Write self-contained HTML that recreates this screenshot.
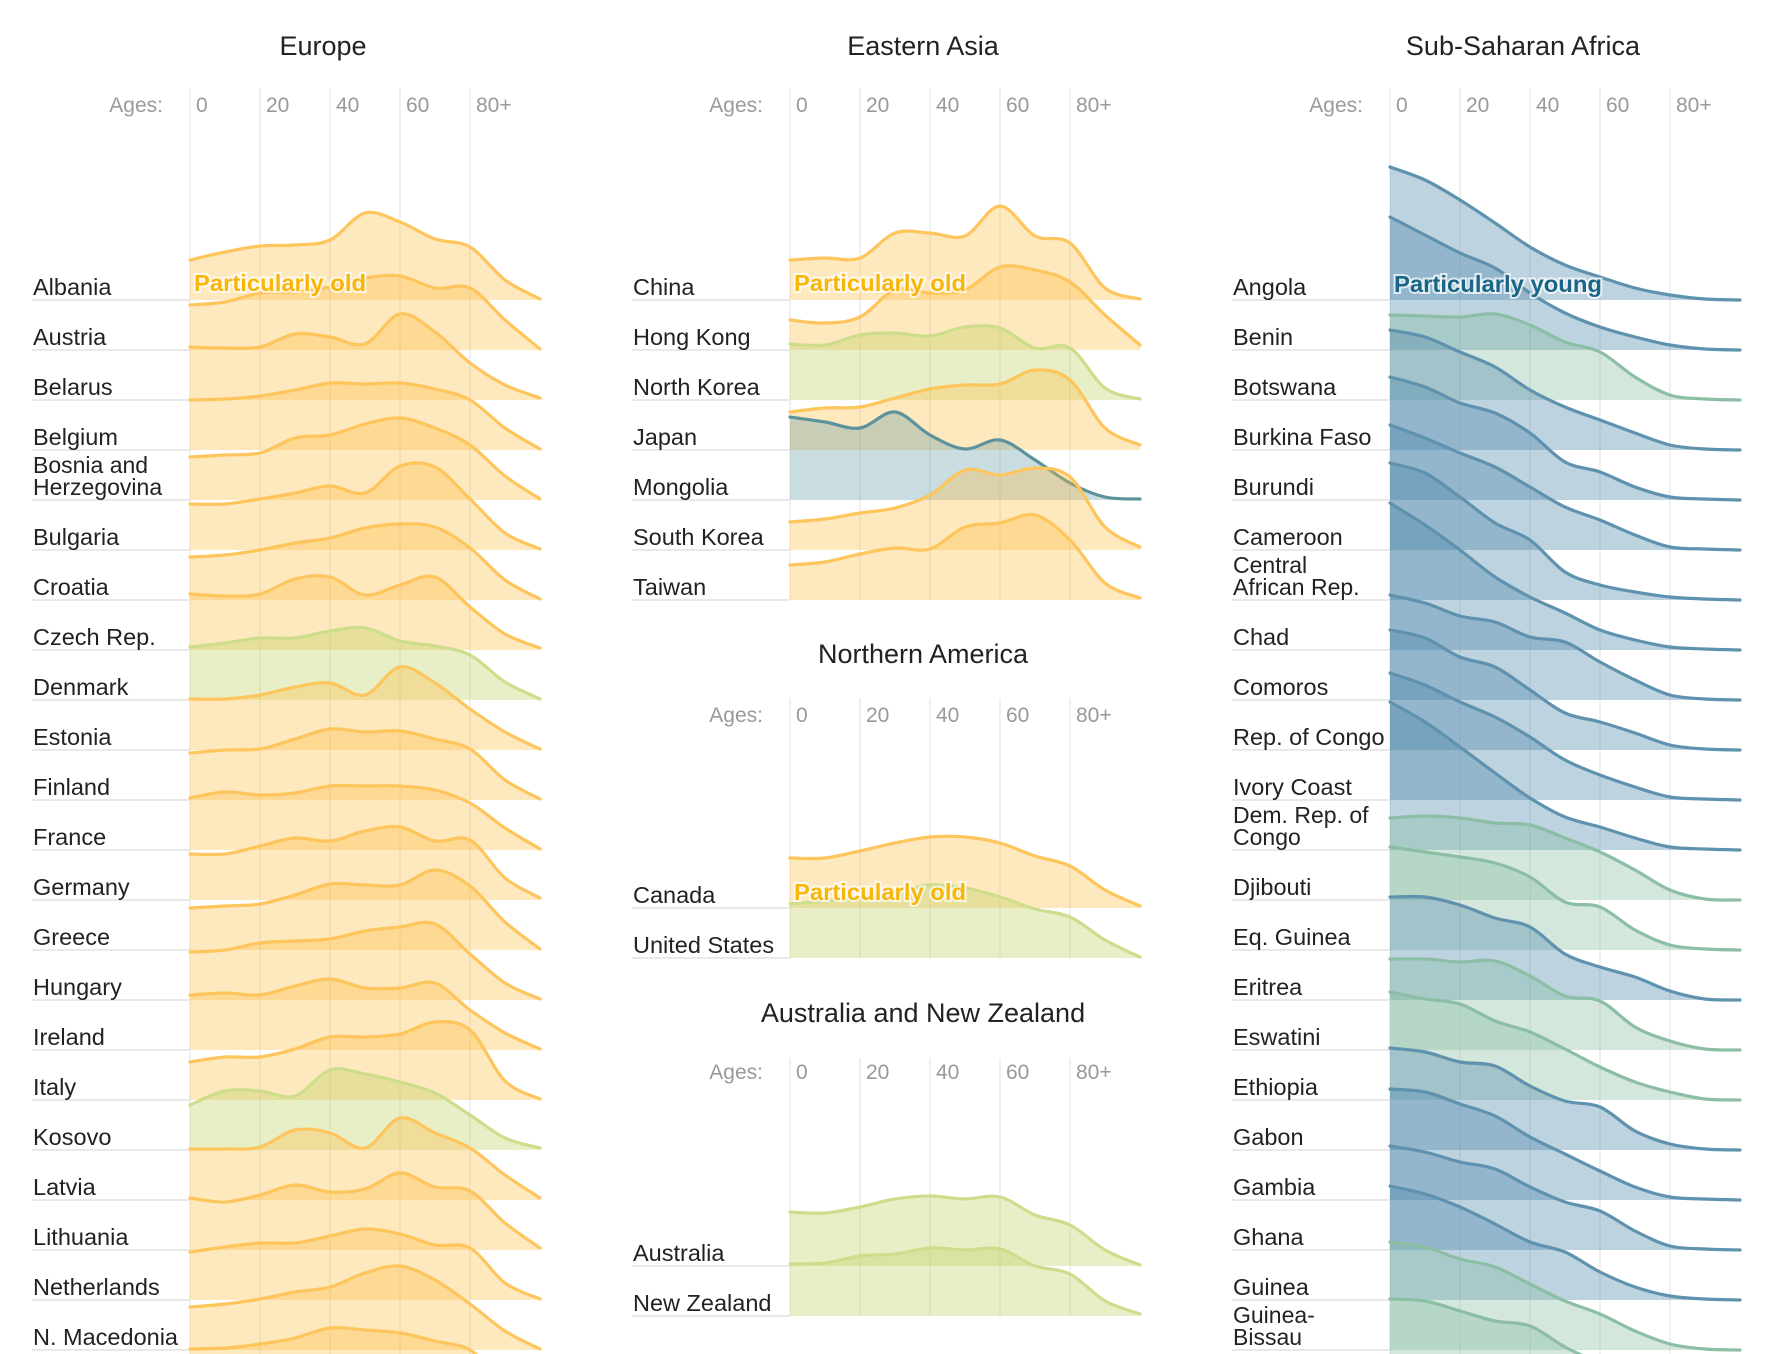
<!DOCTYPE html>
<html><head><meta charset="utf-8">
<style>
html,body{margin:0;padding:0;background:#fff;}
svg{display:block;}
text{font-family:"Liberation Sans",sans-serif;}
</style></head>
<body>
<svg id="chart" width="1766" height="1354" viewBox="0 0 1766 1354" xmlns="http://www.w3.org/2000/svg"></svg>
<script>
const ages = [0,10,20,30,40,50,60,70,80,90,100];
const tickAges = [0,20,40,60,80];
const tickLabels = ['0','20','40','60','80+'];

const europeNames = ['Albania','Austria','Belarus','Belgium','Bosnia and|Herzegovina','Bulgaria','Croatia','Czech Rep.','Denmark','Estonia','Finland','France','Germany','Greece','Hungary','Ireland','Italy','Kosovo','Latvia','Lithuania','Netherlands','N. Macedonia','Norway'];
const europeColors = ['o','o','o','o','o','o','o','o','g','o','o','o','o','o','o','o','o','g','o','o','o','o','o'];
const europeValues = [
 [40,48,54,55,60,87,78,61,53,20,1],
 [45,48,57,58,63,72,74,62,62,30,1],
 [53,52,53,66,63,56,86,68,37,15,2],
 [50,51,54,60,67,66,67,61,50,22,1],
 [43,45,47,62,65,76,82,72,55,24,1],
 [46,46,51,57,64,57,84,83,51,17,1],
 [43,45,50,57,62,72,76,73,52,20,1],
 [56,54,56,71,73,55,65,73,43,16,2],
 [53,57,62,62,69,72,59,54,45,18,1],
 [51,51,55,63,67,55,83,67,41,18,1],
 [47,50,51,61,71,68,69,61,51,20,1],
 [52,58,55,57,64,64,64,60,47,22,1],
 [46,46,54,62,59,69,73,59,60,22,2],
 [42,44,46,55,66,65,65,80,64,28,1],
 [48,50,57,59,61,69,73,76,46,17,1],
 [55,57,55,64,71,62,62,67,40,17,1],
 [38,43,43,51,63,63,66,78,70,19,1],
 [45,59,59,54,80,76,68,57,35,12,2],
 [51,51,53,70,67,52,82,67,52,25,2],
 [52,48,55,65,58,61,77,63,59,27,2],
 [48,53,57,57,64,71,66,55,52,17,1],
 [43,46,51,58,63,77,84,70,46,19,1],
 [51,52,56,62,72,70,67,59,50,20,1]
];

const asiaNames = ['China','Hong Kong','North Korea','Japan','Mongolia','South Korea','Taiwan'];
const asiaColors = ['o','o','g','o','m','o','o'];
const asiaValues = [
 [40,42,42,67,67,64,94,64,57,12,1],
 [30,27,33,60,57,60,83,80,68,35,5],
 [56,55,65,67,64,73,72,52,52,12,1],
 [38,42,43,52,61,65,66,80,70,22,5],
 [83,78,72,88,65,51,60,40,17,3,1],
 [28,31,37,42,55,80,75,82,73,23,3],
 [35,38,46,52,51,73,77,85,60,17,2]
];

const naNames = ['Canada','United States'];
const naColors = ['o','g'];
const naValues = [
 [50,50,57,65,71,71,65,52,42,18,2],
 [54,57,60,66,73,70,61,49,41,18,1]
];

const ausNames = ['Australia','New Zealand'];
const ausColors = ['g','g'];
const ausValues = [
 [54,53,59,67,70,67,69,51,41,16,1],
 [52,53,60,62,68,66,67,50,42,15,2]
];

const africaNames = ['Angola','Benin','Botswana','Burkina Faso','Burundi','Cameroon','Central|African Rep.','Chad','Comoros','Rep. of Congo','Ivory Coast','Dem. Rep. of|Congo','Djibouti','Eq. Guinea','Eritrea','Eswatini','Ethiopia','Gabon','Gambia','Ghana','Guinea','Guinea-|Bissau','Kenya'];
const africaColors = ['b','b','t','b','b','b','b','b','b','b','b','b','t','t','b','t','t','b','b','b','b','t','t'];
const africaValues = [
 [133,120,100,77,53,35,23,12,5,1,0],
 [133,115,97,82,57,37,23,13,5,1,0],
 [85,84,83,86,75,58,48,23,5,1,0],
 [120,113,98,83,60,43,30,17,5,1,0],
 [123,113,97,87,67,38,28,13,3,1,0],
 [125,112,97,83,63,43,30,15,3,1,0],
 [137,127,103,77,60,28,15,8,3,1,0],
 [147,125,100,73,53,37,20,10,3,1,0],
 [105,97,84,78,63,58,38,20,5,1,0],
 [120,112,93,83,60,37,28,17,5,1,0],
 [127,115,98,83,63,40,25,13,3,1,0],
 [148,128,103,77,52,33,23,12,3,1,0],
 [82,84,82,77,75,62,48,30,10,1,0],
 [103,98,93,87,73,48,43,20,5,1,0],
 [103,103,95,82,73,46,33,23,9,1,0],
 [91,91,88,89,74,54,49,23,9,1,0],
 [108,101,96,79,68,51,33,18,8,1,0],
 [102,98,88,84,64,49,43,19,6,1,0],
 [111,108,96,84,63,46,29,13,3,1,0],
 [104,98,88,81,63,48,39,19,4,1,0],
 [114,106,93,76,58,48,28,13,4,1,0],
 [108,103,91,83,66,49,36,19,6,1,0],
 [101,99,89,79,74,53,36,16,5,1,0]
];

const NS = 'http://www.w3.org/2000/svg';
const svg = document.getElementById('chart');
const PAL = {
  o:{fill:'rgb(252,190,70)', stroke:'rgb(253,197,92)'},
  g:{fill:'rgb(190,210,95)', stroke:'rgb(205,221,140)'},
  b:{fill:'rgb(70,130,165)', stroke:'rgb(95,146,174)'},
  m:{fill:'rgb(100,155,165)', stroke:'rgb(92,146,156)'},
  t:{fill:'rgb(130,185,155)', stroke:'rgb(140,190,166)'}
};
const PX_PER_YEAR = 3.5;
const ROW = 50;

function el(tag, attrs, parent){
  const e = document.createElementNS(NS, tag);
  for (const k in attrs) e.setAttribute(k, attrs[k]);
  (parent||svg).appendChild(e);
  return e;
}
function xScale(x0, age){ return x0 + age*PX_PER_YEAR; }
function yScale(base, v){ return base - v; }

function smoothPath(pts){
  let d = '';
  for (let i=0;i<pts.length-1;i++){
    const p0 = pts[i-1]||pts[i], p1 = pts[i], p2 = pts[i+1], p3 = pts[i+2]||pts[i+1];
    const c1x = p1[0]+(p2[0]-p0[0])/6, c1y = p1[1]+(p2[1]-p0[1])/6;
    const c2x = p2[0]-(p3[0]-p1[0])/6, c2y = p2[1]-(p3[1]-p1[1])/6;
    d += ' C'+c1x.toFixed(1)+','+c1y.toFixed(1)+' '+c2x.toFixed(1)+','+c2y.toFixed(1)+' '+p2[0].toFixed(1)+','+p2[1].toFixed(1);
  }
  return d;
}

function title(cx, y, txt){
  const t = el('text',{x:cx,y:y,'text-anchor':'middle','font-size':27,fill:'#222'});
  
  
  t.textContent = txt;
}

function axis(x0, labelY, gridTop, gridBottom){
  const g = el('g',{});
  
  
  tickAges.forEach((a,i)=>{
    const gx = xScale(x0,a);
    const line = el('line',{x1:gx,x2:gx,y1:gridTop,y2:gridBottom,stroke:'#ececec','stroke-width':1.5},g);
    
    
    const t = el('text',{x:gx+6,y:labelY,'font-size':21,fill:'#999'},g);
    
    
    t.textContent = tickLabels[i];
  });
  const lab = el('text',{x:x0-27,y:labelY,'text-anchor':'end','font-size':21,fill:'#999'},g);
  
  
  lab.textContent = 'Ages:';
}

function group(x0, firstBase, names, colors, values){
  const g = el('g',{});
  
  
  names.forEach((nm,i)=>{
    const base = firstBase + i*ROW;
    if (base - 160 > 1354) return;
    const rule = el('line',{x1:x0-158,x2:x0,y1:base,y2:base,stroke:'#e2e2e2','stroke-width':1.5},g);
    
    
    const parts = nm.split('|');
    parts.forEach((p,j)=>{
      const t = el('text',{x:x0-157,y:base-5-(parts.length-1-j)*22,'font-size':parts.length>1?23:23.5,fill:'#222'},g);
      
      
      t.textContent = p;
    });
  });
  names.forEach((nm,i)=>{
    const base = firstBase + i*ROW;
    const c = PAL[colors[i]];
    const pts = ages.map((a,k)=>[xScale(x0,a), yScale(base, values[i][k])]);
    const curve = 'M'+pts[0][0]+','+pts[0][1]+smoothPath(pts);
    const area = el('path',{d:'M'+x0+','+base+' L'+pts[0][0]+','+pts[0][1]+smoothPath(pts)+' L'+xScale(x0,100)+','+base+' Z',fill:c.fill,'fill-opacity':0.35},g);
    
    
    const line = el('path',{d:curve,fill:'none',stroke:c.stroke,'stroke-width':3.2,'stroke-linejoin':'round','stroke-linecap':'round'},g);
    
    
  });
}

function note(x, y, txt, color, w){
  const t = el('text',{x:x,y:y,'font-size':23,'font-weight':'bold',fill:color,stroke:'#fff','stroke-width':4,'stroke-opacity':0.7,'paint-order':'stroke',textLength:w,lengthAdjust:'spacingAndGlyphs'});
  
  
  t.textContent = txt;
}

const C0 = 190, C1 = 790, C2 = 1390;

title(323, 55, 'Europe');
axis(C0, 112, 88, 1354);
group(C0, 300, europeNames, europeColors, europeValues);
note(C0+4, 291, 'Particularly old', '#f8b50a', 172);

title(923, 55, 'Eastern Asia');
axis(C1, 112, 88, 600);
group(C1, 300, asiaNames, asiaColors, asiaValues);
note(C1+4, 291, 'Particularly old', '#f8b50a', 172);

title(923, 663, 'Northern America');
axis(C1, 722, 698, 958);
group(C1, 908, naNames, naColors, naValues);
note(C1+4, 900, 'Particularly old', '#f8b50a', 172);

title(923, 1022, 'Australia and New Zealand');
axis(C1, 1079, 1058, 1316);
group(C1, 1266, ausNames, ausColors, ausValues);

title(1523, 55, 'Sub-Saharan Africa');
axis(C2, 112, 88, 1354);
group(C2, 300, africaNames, africaColors, africaValues);
note(C2+4, 292, 'Particularly young', '#1a6688', 208);
</script>
</body></html>
